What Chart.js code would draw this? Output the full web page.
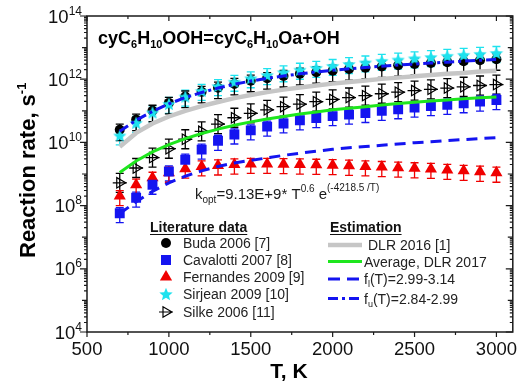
<!DOCTYPE html>
<html>
<head>
<meta charset="utf-8">
<script src="https://cdn.jsdelivr.net/npm/chart.js@4.4.1/dist/chart.umd.min.js"></script>
<style>
  html, body { margin: 0; padding: 0; background: #fff; }
  canvas { display: block; }
</style>
</head>
<body>
<canvas id="chart" width="520" height="385"></canvas>
<script>
// temperature, K
const temps = [700, 800, 900, 1000, 1100, 1200, 1300, 1400, 1500, 1600, 1700, 1800,
               1900, 2000, 2100, 2200, 2300, 2400, 2500, 2600, 2700, 2800, 2900, 3000];

// log10 of the rate constant (s-1)
const budaLog = [10.40, 10.72, 11.00, 11.25, 11.45, 11.60, 11.73, 11.85, 11.95, 12.03, 12.10, 12.17,
                 12.22, 12.27, 12.32, 12.36, 12.40, 12.44, 12.48, 12.51, 12.54, 12.57, 12.60, 12.63];
const cavalottiLog = [7.76, 8.25, 8.66, 9.08, 9.45, 9.77, 10.05, 10.25, 10.38, 10.50, 10.60, 10.70,
                      10.77, 10.83, 10.88, 10.93, 11.00, 11.05, 11.10, 11.15, 11.19, 11.24, 11.29, 11.34];
const fernandesLog = [8.30, 8.66, 8.88, 9.04, 9.17, 9.24, 9.27, 9.30, 9.32, 9.32, 9.31, 9.30,
                      9.29, 9.28, 9.26, 9.24, 9.22, 9.20, 9.18, 9.16, 9.13, 9.10, 9.07, 9.04];
const sirjeanLog = [10.22, 10.62, 10.95, 11.22, 11.45, 11.63, 11.78, 11.92, 12.03, 12.13, 12.22, 12.30,
                    12.36, 12.42, 12.48, 12.53, 12.58, 12.62, 12.66, 12.70, 12.74, 12.77, 12.80, 12.83];
const silkeLog = [8.72, 9.19, 9.52, 9.80, 10.10, 10.35, 10.58, 10.78, 10.92, 11.03, 11.13, 11.21,
                  11.29, 11.36, 11.42, 11.48, 11.54, 11.59, 11.64, 11.68, 11.72, 11.76, 11.80, 11.83];

const dlr2016Log = [9.86, 10.30, 10.60, 10.82, 11.00, 11.15, 11.28, 11.40, 11.50, 11.59, 11.67, 11.74,
                    11.80, 11.86, 11.91, 11.96, 12.01, 12.05, 12.09, 12.13, 12.17, 12.20, 12.24, 12.27];
const averageLog = [9.05, 9.41, 9.70, 9.93, 10.12, 10.28, 10.42, 10.54, 10.65, 10.74, 10.82, 10.90,
                    10.96, 11.03, 11.08, 11.13, 11.18, 11.23, 11.27, 11.31, 11.34, 11.38, 11.41, 11.44];
const flLog = [7.75, 8.12, 8.45, 8.72, 8.93, 9.10, 9.24, 9.35, 9.43, 9.51, 9.59, 9.66,
               9.72, 9.78, 9.83, 9.87, 9.91, 9.95, 9.99, 10.02, 10.06, 10.09, 10.12, 10.15];
const fuLog = [10.35, 10.70, 10.98, 11.22, 11.42, 11.58, 11.72, 11.84, 11.94, 12.03, 12.10, 12.17,
               12.23, 12.28, 12.33, 12.37, 12.41, 12.45, 12.48, 12.51, 12.54, 12.57, 12.60, 12.62];

// relative error bars [down, up]
const budaErr = [0.55, 0.5];
const cavalottiErr = [0.5, 0.5];
const fernandesErr = [0.5, 0.5];
const sirjeanErr = [0.5, 0.6];
const silkeErr = [0.5, 1.0];

const xTicks = [500, 1000, 1500, 2000, 2500, 3000];
const yExps = [4, 6, 8, 10, 12, 14];

const BLUE = '#1414f0', RED = '#f00000', CYAN = '#1ee2ee', GREEN = '#1ee61e', GRAY = '#c6c6c6';
const FONT = '"Liberation Sans", Arial, sans-serif';

const toXY = (logs) => logs.map((v, i) => ({ x: temps[i], y: Math.pow(10, v) }));

function makeStar(color, r) {
  const c = document.createElement('canvas');
  c.width = c.height = Math.ceil(r * 2 + 2);
  const g = c.getContext('2d');
  g.translate(c.width / 2, c.height / 2 + r * 0.1);
  g.beginPath();
  for (let i = 0; i < 10; i++) {
    const rr = i % 2 ? r * 0.45 : r;
    const a = -Math.PI / 2 + i * Math.PI / 5;
    g.lineTo(rr * Math.cos(a), rr * Math.sin(a));
  }
  g.closePath();
  g.fillStyle = color;
  g.fill();
  return c;
}
const star = makeStar(CYAN, 7);

function pts(label, logs, style, err, extra) {
  return Object.assign({
    label: label, data: toXY(logs), showLine: false,
    pointStyle: style, pointRadius: 5, pointBorderWidth: 0,
    err: err
  }, extra);
}
function curve(label, logs, color, width, dash, order) {
  return {
    label: label, data: toXY(logs), showLine: true, borderColor: color,
    borderWidth: width, borderDash: dash, pointRadius: 0, fill: false, order: order
  };
}

const datasets = [
  curve('fu', fuLog, BLUE, 3, [10, 4, 3, 4], 0),
  pts('Sirjean 2009 [10]', sirjeanLog, star, { v: sirjeanErr, color: CYAN },
      { order: 1 }),
  pts('Buda 2006 [7]', budaLog, 'circle', { v: budaErr, color: '#000' },
      { pointBackgroundColor: '#000', order: 2 }),
  curve('fl', flLog, BLUE, 3, [11, 7], 3),
  curve('Average, DLR 2017', averageLog, GREEN, 3, [], 4),
  pts('Silke 2006 [11]', silkeLog, 'triangle', { v: silkeErr, color: '#000', cross: true },
      { pointRotation: 90, pointRadius: 6, pointBorderWidth: 1.2, pointBorderColor: '#000',
        pointBackgroundColor: 'rgba(0,0,0,0)', order: 5 }),
  pts('Cavalotti 2007 [8]', cavalottiLog, 'rect', { v: cavalottiErr, color: BLUE },
      { pointRadius: 7, pointBackgroundColor: BLUE, order: 6 }),
  pts('Fernandes 2009 [9]', fernandesLog, 'triangle', { v: fernandesErr, color: RED },
      { pointRadius: 7, pointBackgroundColor: RED, order: 7 }),
  curve('DLR 2016 [1]', dlr2016Log, GRAY, 4.5, [], 8)
];

// error bars under the markers
const errorBars = {
  id: 'errorBars',
  beforeDatasetsDraw(chart) {
    const { ctx, scales: { x, y } } = chart;
    ctx.save();
    ctx.lineWidth = 1.3;
    chart.data.datasets.forEach((ds) => {
      if (!ds.err) return;
      ctx.strokeStyle = ds.err.color;
      ds.data.forEach((p) => {
        const px = x.getPixelForValue(p.x);
        const lo = y.getPixelForValue(p.y * (1 - ds.err.v[0]));
        const hi = y.getPixelForValue(p.y * (1 + ds.err.v[1]));
        ctx.beginPath();
        ctx.moveTo(px, lo); ctx.lineTo(px, hi);
        ctx.moveTo(px - 4, lo); ctx.lineTo(px + 4, lo);
        ctx.moveTo(px - 4, hi); ctx.lineTo(px + 4, hi);
        if (ds.err.cross) {
          const py = y.getPixelForValue(p.y);
          ctx.moveTo(px - 7, py); ctx.lineTo(px + 7, py);
        }
        ctx.stroke();
      });
    });
    ctx.restore();
  }
};

// draws a run of text pieces, each with its own font and vertical shift
function rich(ctx, x, y, parts) {
  parts.forEach((p) => {
    ctx.font = p[1];
    ctx.fillText(p[0], x, y + (p[2] || 0));
    x += ctx.measureText(p[0]).width;
  });
  return x;
}

function legendMarker(ctx, kind, x, y) {
  ctx.save();
  if (kind === 'circle') {
    ctx.fillStyle = '#000';
    ctx.beginPath(); ctx.arc(x, y, 5, 0, Math.PI * 2); ctx.fill();
  } else if (kind === 'square') {
    ctx.fillStyle = BLUE; ctx.fillRect(x - 5, y - 5, 10, 10);
  } else if (kind === 'tri') {
    ctx.fillStyle = RED;
    ctx.beginPath();
    ctx.moveTo(x, y - 7); ctx.lineTo(x + 6.1, y + 3.5); ctx.lineTo(x - 6.1, y + 3.5);
    ctx.closePath(); ctx.fill();
  } else if (kind === 'star') {
    ctx.drawImage(star, x - star.width / 2, y - star.height / 2);
  } else if (kind === 'silke') {
    ctx.strokeStyle = '#000'; ctx.lineWidth = 1.2;
    ctx.beginPath();
    ctx.moveTo(x + 6, y); ctx.lineTo(x - 3, y - 5.2); ctx.lineTo(x - 3, y + 5.2); ctx.closePath();
    ctx.moveTo(x - 7, y); ctx.lineTo(x + 7, y);
    ctx.stroke();
  }
  ctx.restore();
}

const frame = {
  id: 'frame',
  afterDraw(chart) {
    const { ctx, chartArea: a, scales: { x, y } } = chart;
    ctx.save();
    ctx.strokeStyle = '#1a1a1a';
    ctx.lineWidth = 1.5;
    ctx.strokeRect(a.left, a.top, a.right - a.left, a.bottom - a.top);

    // x ticks: outward at bottom, inward at top
    ctx.lineWidth = 1.2;
    ctx.beginPath();
    for (let v = 500; v <= 3000; v += 250) {
      const px = x.getPixelForValue(v);
      const len = v % 500 === 0 ? 5 : 3;
      ctx.moveTo(px, a.bottom); ctx.lineTo(px, a.bottom + len);
      ctx.moveTo(px, a.top); ctx.lineTo(px, a.top + len);
    }
    // y ticks: outward at left, inward at right
    for (let e = 4; e <= 14; e++) {
      for (let m = 1; m <= 9; m++) {
        if (e === 14 && m > 1) break;
        const py = y.getPixelForValue(m * Math.pow(10, e));
        const len = m === 1 ? (e % 2 === 0 ? 7 : 5) : 3;
        ctx.moveTo(a.left - len, py); ctx.lineTo(a.left, py);
        ctx.moveTo(a.right - len, py); ctx.lineTo(a.right, py);
      }
    }
    ctx.stroke();

    ctx.fillStyle = '#111';
    ctx.textBaseline = 'alphabetic';
    // x tick labels
    ctx.font = '18.5px ' + FONT;
    ctx.textAlign = 'center';
    xTicks.forEach((v) => ctx.fillText(String(v), x.getPixelForValue(v), 355));
    // y tick labels 10^n
    ctx.textAlign = 'left';
    yExps.forEach((e) => {
      const py = y.getPixelForValue(Math.pow(10, e));
      ctx.font = '12px ' + FONT;
      const ew = ctx.measureText(String(e)).width;
      ctx.font = '18.5px ' + FONT;
      const bw = ctx.measureText('10').width;
      const x0 = 82 - ew - bw;
      ctx.fillText('10', x0, py + 6.5);
      ctx.font = '12px ' + FONT;
      ctx.fillText(String(e), x0 + bw, py - 1.5);
    });

    // axis titles
    ctx.fillStyle = '#000';
    ctx.font = 'bold 21px ' + FONT;
    ctx.textAlign = 'center';
    ctx.fillText('T, K', 289, 378);
    ctx.textAlign = 'left';
    ctx.save();
    ctx.translate(35, 258);
    ctx.rotate(-Math.PI / 2);
    rich(ctx, 0, 0, [['Reaction rate, s', 'bold 22px ' + FONT], ['-1', 'bold 13px ' + FONT, -9]]);
    ctx.restore();

    // reaction label
    const B = 'bold 18px ' + FONT, Bs = 'bold 11px ' + FONT;
    rich(ctx, 98, 44, [['cyC', B], ['6', Bs, 4], ['H', B], ['10', Bs, 4], ['OOH=cyC', B],
                      ['6', Bs, 4], ['H', B], ['10', Bs, 4], ['Oa+OH', B]]);

    // fitted expression
    ctx.fillStyle = '#1a1a1a';
    const N = '15px ' + FONT, Ns = '10px ' + FONT;
    rich(ctx, 195, 199, [['k', N], ['opt', Ns, 4], ['=9.13E+9* T', N], ['0.6', Ns, -7],
                        [' e', N], ['(-4218.5 /T)', Ns, -8]]);

    // legend: literature data
    const LB = 'bold 14px ' + FONT, LN = '14px ' + FONT;
    ctx.fillStyle = '#111';
    ctx.font = LB;
    ctx.fillText('Literature data', 150, 232);
    let w = ctx.measureText('Literature data').width;
    ctx.lineWidth = 1.2; ctx.strokeStyle = '#111';
    ctx.beginPath(); ctx.moveTo(150, 234.5); ctx.lineTo(150 + w, 234.5); ctx.stroke();
    const lit = [['circle', 'Buda 2006 [7]', 243], ['square', 'Cavalotti 2007 [8]', 260],
                 ['tri', 'Fernandes 2009 [9]', 277], ['star', 'Sirjean 2009 [10]', 294],
                 ['silke', 'Silke 2006 [11]', 312]];
    ctx.font = LN;
    lit.forEach((r) => {
      legendMarker(ctx, r[0], 166, r[2]);
      ctx.fillStyle = '#222'; ctx.font = LN;
      ctx.fillText(r[1], 183, r[2] + 5);
    });

    // legend: estimation
    ctx.fillStyle = '#111';
    ctx.font = LB;
    ctx.fillText('Estimation', 330, 232);
    w = ctx.measureText('Estimation').width;
    ctx.beginPath(); ctx.moveTo(330, 234.5); ctx.lineTo(330 + w, 234.5); ctx.stroke();
    const est = [[GRAY, 4.5, [], 'DLR 2016 [1]', 245, 368],
                 [GREEN, 3, [], 'Average, DLR 2017', 261.5, 364],
                 [BLUE, 3, [12, 7], null, 279, 364],
                 [BLUE, 3, [10, 4, 3, 4], null, 298.5, 364]];
    est.forEach((r) => {
      ctx.strokeStyle = r[0]; ctx.lineWidth = r[1]; ctx.setLineDash(r[2]);
      ctx.beginPath(); ctx.moveTo(328, r[4]); ctx.lineTo(362, r[4]); ctx.stroke();
      ctx.setLineDash([]);
      ctx.fillStyle = '#222';
      if (r[3]) {
        ctx.font = LN;
        ctx.fillText(r[3], r[5], r[4] + 5);
      }
    });
    rich(ctx, 364, 284, [['f', LN], ['l', '9px ' + FONT, 3], ['(T)=2.99-3.14', LN]]);
    rich(ctx, 364, 303.5, [['f', LN], ['u', '9px ' + FONT, 3], ['(T)=2.84-2.99', LN]]);
    ctx.restore();
  }
};

const ctx = document.getElementById('chart').getContext('2d');
new Chart(ctx, {
  type: 'scatter',
  data: { datasets: datasets },
  options: {
    responsive: false,
    animation: false,
    devicePixelRatio: 1,
    layout: { padding: { left: 87, right: 5, top: 16, bottom: 53 } },
    scales: {
      x: { type: 'linear', min: 500, max: 3100, display: false },
      y: { type: 'logarithmic', min: 1e4, max: 1e14, display: false }
    },
    plugins: { legend: { display: false }, tooltip: { enabled: false } }
  },
  plugins: [errorBars, frame]
});
</script>
</body>
</html>
